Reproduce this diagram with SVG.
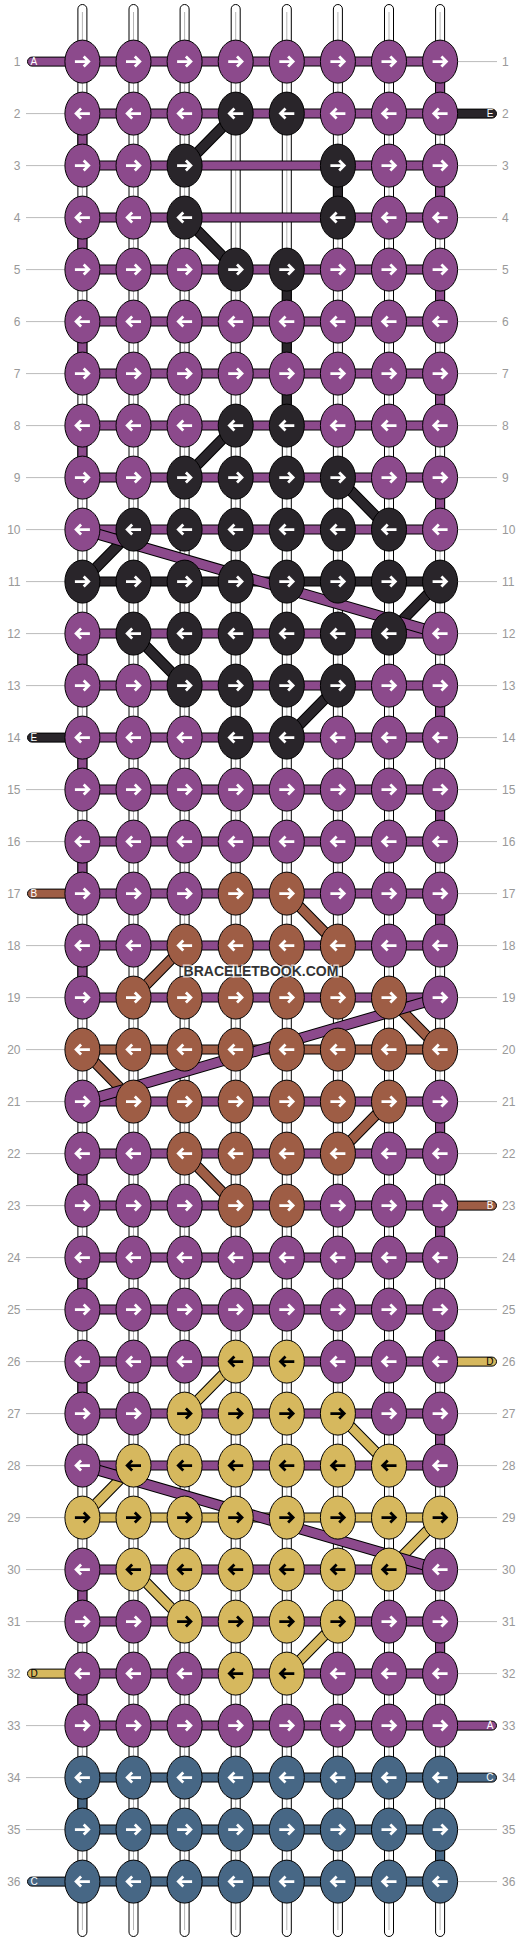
<svg xmlns="http://www.w3.org/2000/svg" width="532" height="1944" viewBox="0 0 532 1944">
<style>
.P{fill:#8c4a8c;color:#fff}
.K{fill:#29252a;color:#fff}
.B{fill:#9e5d45;color:#fff}
.Y{fill:#d6b85e;color:#000}
.C{fill:#476785;color:#fff}
.o{fill:none;stroke:#000;stroke-width:10}
.sP{fill:none;stroke:#8c4a8c;stroke-width:8}
.sK{fill:none;stroke:#29252a;stroke-width:8}
.sB{fill:none;stroke:#9e5d45;stroke-width:8}
.sY{fill:none;stroke:#d6b85e;stroke-width:8}
.sC{fill:none;stroke:#476785;stroke-width:8}
.do{fill:none;stroke:#000;stroke-width:11}
.dP{fill:none;stroke:#8c4a8c;stroke-width:9}
.dK{fill:none;stroke:#29252a;stroke-width:9}
.dB{fill:none;stroke:#9e5d45;stroke-width:9}
.dY{fill:none;stroke:#d6b85e;stroke-width:9}
.gl{fill:none;stroke:#bbb;stroke-width:1}
.lbl{font-family:"Liberation Sans",Arial,sans-serif;font-size:12px;fill:#999}
.lr{text-anchor:end}
.te{stroke:#000;stroke-width:1}
.tl{font-family:"Liberation Sans",Arial,sans-serif;font-size:10px}
.str rect{fill:#fff;stroke:#000;stroke-width:1}
.str line{stroke:#b5b5b5;stroke-width:1}
</style>
<defs>
<g id="NR"><ellipse rx="17.5" ry="21.5" stroke="#000" stroke-width="1"/><path d="M-7.5 0H6.2M1.3-5L6.3 0L1.3 5" fill="none" stroke="currentColor" stroke-width="2.8"/></g>
<g id="NL"><ellipse rx="17.5" ry="21.5" stroke="#000" stroke-width="1"/><path d="M7.5 0H-6.2M-1.3-5L-6.3 0L-1.3 5" fill="none" stroke="currentColor" stroke-width="2.8"/></g>
</defs>
<rect width="532" height="1944" fill="#fff"/>
<g id="strands" class="str">
<rect x="77.9" y="4.5" width="9" height="1932" rx="4.5"/><line x1="82.4" y1="12" x2="82.4" y2="1930"/>
<rect x="129" y="4.5" width="9" height="1932" rx="4.5"/><line x1="133.5" y1="12" x2="133.5" y2="1930"/>
<rect x="180.1" y="4.5" width="9" height="1932" rx="4.5"/><line x1="184.6" y1="12" x2="184.6" y2="1930"/>
<rect x="231.2" y="4.5" width="9" height="1932" rx="4.5"/><line x1="235.7" y1="12" x2="235.7" y2="1930"/>
<rect x="282.3" y="4.5" width="9" height="1932" rx="4.5"/><line x1="286.8" y1="12" x2="286.8" y2="1930"/>
<rect x="333.4" y="4.5" width="9" height="1932" rx="4.5"/><line x1="337.9" y1="12" x2="337.9" y2="1930"/>
<rect x="384.5" y="4.5" width="9" height="1932" rx="4.5"/><line x1="389" y1="12" x2="389" y2="1930"/>
<rect x="435.6" y="4.5" width="9" height="1932" rx="4.5"/><line x1="440.1" y1="12" x2="440.1" y2="1930"/>
</g>
<g id="rowlines">
<path class="gl" d="M26 113.6H65M26 165.6H65M26 217.6H65M26 269.6H65M26 321.6H65M26 373.6H65M26 425.6H65M26 477.6H65M26 529.6H65M26 581.6H65M26 633.6H65M26 685.6H65M26 789.6H65M26 841.6H65M26 945.6H65M26 997.6H65M26 1049.6H65M26 1101.6H65M26 1153.6H65M26 1205.6H65M26 1257.6H65M26 1309.6H65M26 1361.6H65M26 1413.6H65M26 1465.6H65M26 1517.6H65M26 1569.6H65M26 1621.6H65M26 1725.6H65M26 1777.6H65M26 1829.6H65"/>
<path class="gl" d="M458 61.6H497M458 165.6H497M458 217.6H497M458 269.6H497M458 321.6H497M458 373.6H497M458 425.6H497M458 477.6H497M458 529.6H497M458 581.6H497M458 633.6H497M458 685.6H497M458 737.6H497M458 789.6H497M458 841.6H497M458 893.6H497M458 945.6H497M458 997.6H497M458 1049.6H497M458 1101.6H497M458 1153.6H497M458 1257.6H497M458 1309.6H497M458 1413.6H497M458 1465.6H497M458 1517.6H497M458 1569.6H497M458 1621.6H497M458 1673.6H497M458 1829.6H497M458 1881.6H497"/>
</g>
<g id="labels" class="lbl">
<text class="lr" x="20.5" y="65.8">1</text><text x="502" y="65.8">1</text>
<text class="lr" x="20.5" y="117.8">2</text><text x="502" y="117.8">2</text>
<text class="lr" x="20.5" y="169.8">3</text><text x="502" y="169.8">3</text>
<text class="lr" x="20.5" y="221.8">4</text><text x="502" y="221.8">4</text>
<text class="lr" x="20.5" y="273.8">5</text><text x="502" y="273.8">5</text>
<text class="lr" x="20.5" y="325.8">6</text><text x="502" y="325.8">6</text>
<text class="lr" x="20.5" y="377.8">7</text><text x="502" y="377.8">7</text>
<text class="lr" x="20.5" y="429.8">8</text><text x="502" y="429.8">8</text>
<text class="lr" x="20.5" y="481.8">9</text><text x="502" y="481.8">9</text>
<text class="lr" x="20.5" y="533.8">10</text><text x="502" y="533.8">10</text>
<text class="lr" x="20.5" y="585.8">11</text><text x="502" y="585.8">11</text>
<text class="lr" x="20.5" y="637.8">12</text><text x="502" y="637.8">12</text>
<text class="lr" x="20.5" y="689.8">13</text><text x="502" y="689.8">13</text>
<text class="lr" x="20.5" y="741.8">14</text><text x="502" y="741.8">14</text>
<text class="lr" x="20.5" y="793.8">15</text><text x="502" y="793.8">15</text>
<text class="lr" x="20.5" y="845.8">16</text><text x="502" y="845.8">16</text>
<text class="lr" x="20.5" y="897.8">17</text><text x="502" y="897.8">17</text>
<text class="lr" x="20.5" y="949.8">18</text><text x="502" y="949.8">18</text>
<text class="lr" x="20.5" y="1001.8">19</text><text x="502" y="1001.8">19</text>
<text class="lr" x="20.5" y="1053.8">20</text><text x="502" y="1053.8">20</text>
<text class="lr" x="20.5" y="1105.8">21</text><text x="502" y="1105.8">21</text>
<text class="lr" x="20.5" y="1157.8">22</text><text x="502" y="1157.8">22</text>
<text class="lr" x="20.5" y="1209.8">23</text><text x="502" y="1209.8">23</text>
<text class="lr" x="20.5" y="1261.8">24</text><text x="502" y="1261.8">24</text>
<text class="lr" x="20.5" y="1313.8">25</text><text x="502" y="1313.8">25</text>
<text class="lr" x="20.5" y="1365.8">26</text><text x="502" y="1365.8">26</text>
<text class="lr" x="20.5" y="1417.8">27</text><text x="502" y="1417.8">27</text>
<text class="lr" x="20.5" y="1469.8">28</text><text x="502" y="1469.8">28</text>
<text class="lr" x="20.5" y="1521.8">29</text><text x="502" y="1521.8">29</text>
<text class="lr" x="20.5" y="1573.8">30</text><text x="502" y="1573.8">30</text>
<text class="lr" x="20.5" y="1625.8">31</text><text x="502" y="1625.8">31</text>
<text class="lr" x="20.5" y="1677.8">32</text><text x="502" y="1677.8">32</text>
<text class="lr" x="20.5" y="1729.8">33</text><text x="502" y="1729.8">33</text>
<text class="lr" x="20.5" y="1781.8">34</text><text x="502" y="1781.8">34</text>
<text class="lr" x="20.5" y="1833.8">35</text><text x="502" y="1833.8">35</text>
<text class="lr" x="20.5" y="1885.8">36</text><text x="502" y="1885.8">36</text>
</g>
<g id="connectors">
<path class="o" d="M82.4 61.6H440.1M82.4 113.6H440.1M82.4 165.6H440.1M82.4 217.6H440.1M82.4 269.6H440.1M82.4 321.6H440.1M82.4 373.6H440.1M82.4 425.6H440.1M82.4 477.6H440.1M82.4 529.6H440.1M82.4 581.6H440.1M82.4 633.6H440.1M82.4 685.6H440.1M82.4 737.6H440.1M82.4 789.6H440.1M82.4 841.6H440.1M82.4 893.6H440.1M82.4 945.6H440.1M82.4 997.6H440.1M82.4 1049.6H440.1M82.4 1101.6H440.1M82.4 1153.6H440.1M82.4 1205.6H440.1M82.4 1257.6H440.1M82.4 1309.6H440.1M82.4 1361.6H440.1M82.4 1413.6H440.1M82.4 1465.6H440.1M82.4 1517.6H440.1M82.4 1569.6H440.1M82.4 1621.6H440.1M82.4 1673.6H440.1M82.4 1725.6H440.1M82.4 1777.6H440.1M82.4 1829.6H440.1M82.4 1881.6H440.1
M440.1 61.6V113.6M440.1 165.6V217.6M440.1 269.6V321.6M440.1 373.6V425.6M440.1 477.6V529.6M440.1 685.6V737.6M440.1 789.6V841.6M440.1 893.6V945.6M440.1 1101.6V1153.6M440.1 1205.6V1257.6M440.1 1309.6V1361.6M440.1 1413.6V1465.6M440.1 1621.6V1673.6
M82.4 113.6V165.6M82.4 217.6V269.6M82.4 321.6V373.6M82.4 425.6V477.6M82.4 633.6V685.6M82.4 737.6V789.6M82.4 841.6V893.6M82.4 945.6V997.6M82.4 1153.6V1205.6M82.4 1257.6V1309.6M82.4 1361.6V1413.6M82.4 1569.6V1621.6M82.4 1673.6V1725.6
M337.9 165.6V217.6M286.8 269.6V425.6M82.4 1777.6V1829.6M440.1 1829.6V1881.6"/>
<path class="sP" d="M82.4 61.6H440.1M82.4 113.6H440.1M82.4 165.6H440.1M82.4 217.6H440.1M82.4 269.6H440.1M82.4 321.6H440.1M82.4 373.6H440.1M82.4 425.6H440.1M82.4 477.6H440.1M82.4 529.6H440.1M82.4 633.6H440.1M82.4 685.6H440.1M82.4 737.6H440.1M82.4 789.6H440.1M82.4 841.6H440.1M82.4 893.6H440.1M82.4 945.6H440.1M82.4 997.6H440.1M82.4 1101.6H440.1M82.4 1153.6H440.1M82.4 1205.6H440.1M82.4 1257.6H440.1M82.4 1309.6H440.1M82.4 1361.6H440.1M82.4 1413.6H440.1M82.4 1465.6H440.1M82.4 1569.6H440.1M82.4 1621.6H440.1M82.4 1673.6H440.1M82.4 1725.6H440.1
M440.1 61.6V113.6M440.1 165.6V217.6M440.1 269.6V321.6M440.1 373.6V425.6M440.1 477.6V529.6M440.1 685.6V737.6M440.1 789.6V841.6M440.1 893.6V945.6M440.1 1101.6V1153.6M440.1 1205.6V1257.6M440.1 1309.6V1361.6M440.1 1413.6V1465.6M440.1 1621.6V1673.6
M82.4 113.6V165.6M82.4 217.6V269.6M82.4 321.6V373.6M82.4 425.6V477.6M82.4 633.6V685.6M82.4 737.6V789.6M82.4 841.6V893.6M82.4 945.6V997.6M82.4 1153.6V1205.6M82.4 1257.6V1309.6M82.4 1361.6V1413.6M82.4 1569.6V1621.6M82.4 1673.6V1725.6"/>
<path class="sK" d="M82.4 581.6H440.1M337.9 165.6V217.6M286.8 269.6V425.6"/>
<path class="sB" d="M82.4 1049.6H440.1"/>
<path class="sY" d="M82.4 1517.6H440.1"/>
<path class="sC" d="M82.4 1777.6H440.1M82.4 1829.6H440.1M82.4 1881.6H440.1M82.4 1777.6V1829.6M440.1 1829.6V1881.6"/>
<path class="do" d="M235.7 113.6L184.6 165.6M184.6 217.6L235.7 269.6M235.7 425.6L184.6 477.6M337.9 477.6L389 529.6M133.5 529.6L82.4 581.6M440.1 581.6L389 633.6M133.5 633.6L184.6 685.6M337.9 685.6L286.8 737.6"/>
<path class="dK" d="M235.7 113.6L184.6 165.6M184.6 217.6L235.7 269.6M235.7 425.6L184.6 477.6M337.9 477.6L389 529.6M133.5 529.6L82.4 581.6M440.1 581.6L389 633.6M133.5 633.6L184.6 685.6M337.9 685.6L286.8 737.6"/>
<path class="do" d="M286.8 893.6L337.9 945.6M184.6 945.6L133.5 997.6M389 997.6L440.1 1049.6M82.4 1049.6L133.5 1101.6M389 1101.6L337.9 1153.6M184.6 1153.6L235.7 1205.6"/>
<path class="dB" d="M286.8 893.6L337.9 945.6M184.6 945.6L133.5 997.6M389 997.6L440.1 1049.6M82.4 1049.6L133.5 1101.6M389 1101.6L337.9 1153.6M184.6 1153.6L235.7 1205.6"/>
<path class="do" d="M235.7 1361.6L184.6 1413.6M337.9 1413.6L389 1465.6M133.5 1465.6L82.4 1517.6M440.1 1517.6L389 1569.6M133.5 1569.6L184.6 1621.6M337.9 1621.6L286.8 1673.6"/>
<path class="dY" d="M235.7 1361.6L184.6 1413.6M337.9 1413.6L389 1465.6M133.5 1465.6L82.4 1517.6M440.1 1517.6L389 1569.6M133.5 1569.6L184.6 1621.6M337.9 1621.6L286.8 1673.6"/>
<path class="do" d="M82.4 529.6L440.1 633.6M440.1 997.6L82.4 1101.6M82.4 1465.6L440.1 1569.6"/>
<path class="dP" d="M82.4 529.6L440.1 633.6M440.1 997.6L82.4 1101.6M82.4 1465.6L440.1 1569.6"/>
</g>
<g id="thread-ends">
<g id="endA1"><rect class="te P" x="27.5" y="57.1" width="60" height="9" rx="4.5"/><text class="tl" x="30.5" y="65.2" fill="#fff">A</text></g>
<g id="endE2"><rect class="te K" x="436" y="109.1" width="60.5" height="9" rx="4.5"/><text class="tl" x="493.5" y="117.2" fill="#fff" text-anchor="end">E</text></g>
<g id="endE14"><rect class="te K" x="27.5" y="733.1" width="60" height="9" rx="4.5"/><text class="tl" x="30.5" y="741.2" fill="#fff">E</text></g>
<g id="endB17"><rect class="te B" x="27.5" y="889.1" width="60" height="9" rx="4.5"/><text class="tl" x="30.5" y="897.2" fill="#fff">B</text></g>
<g id="endB23"><rect class="te B" x="436" y="1201.1" width="60.5" height="9" rx="4.5"/><text class="tl" x="493.5" y="1209.2" fill="#fff" text-anchor="end">B</text></g>
<g id="endD26"><rect class="te Y" x="436" y="1357.1" width="60.5" height="9" rx="4.5"/><text class="tl" x="493.5" y="1365.2" fill="#000" text-anchor="end">D</text></g>
<g id="endD32"><rect class="te Y" x="27.5" y="1669.1" width="60" height="9" rx="4.5"/><text class="tl" x="30.5" y="1677.2" fill="#000">D</text></g>
<g id="endA33"><rect class="te P" x="436" y="1721.1" width="60.5" height="9" rx="4.5"/><text class="tl" x="493.5" y="1729.2" fill="#fff" text-anchor="end">A</text></g>
<g id="endC34"><rect class="te C" x="436" y="1773.1" width="60.5" height="9" rx="4.5"/><text class="tl" x="493.5" y="1781.2" fill="#fff" text-anchor="end">C</text></g>
<g id="endC36"><rect class="te C" x="27.5" y="1877.1" width="60" height="9" rx="4.5"/><text class="tl" x="30.5" y="1885.2" fill="#fff">C</text></g>
</g>
<g id="nodes">
<g id="n1-1" class="P"><use href="#NR" x="82.4" y="61.6"/></g><g id="n1-2" class="P"><use href="#NR" x="133.5" y="61.6"/></g><g id="n1-3" class="P"><use href="#NR" x="184.6" y="61.6"/></g><g id="n1-4" class="P"><use href="#NR" x="235.7" y="61.6"/></g><g id="n1-5" class="P"><use href="#NR" x="286.8" y="61.6"/></g><g id="n1-6" class="P"><use href="#NR" x="337.9" y="61.6"/></g><g id="n1-7" class="P"><use href="#NR" x="389" y="61.6"/></g><g id="n1-8" class="P"><use href="#NR" x="440.1" y="61.6"/></g>
<g id="n2-1" class="P"><use href="#NL" x="82.4" y="113.6"/></g><g id="n2-2" class="P"><use href="#NL" x="133.5" y="113.6"/></g><g id="n2-3" class="P"><use href="#NL" x="184.6" y="113.6"/></g><g id="n2-4" class="K"><use href="#NL" x="235.7" y="113.6"/></g><g id="n2-5" class="K"><use href="#NL" x="286.8" y="113.6"/></g><g id="n2-6" class="P"><use href="#NL" x="337.9" y="113.6"/></g><g id="n2-7" class="P"><use href="#NL" x="389" y="113.6"/></g><g id="n2-8" class="P"><use href="#NL" x="440.1" y="113.6"/></g>
<g id="n3-1" class="P"><use href="#NR" x="82.4" y="165.6"/></g><g id="n3-2" class="P"><use href="#NR" x="133.5" y="165.6"/></g><g id="n3-3" class="K"><use href="#NR" x="184.6" y="165.6"/></g><g id="n3-6" class="K"><use href="#NR" x="337.9" y="165.6"/></g><g id="n3-7" class="P"><use href="#NR" x="389" y="165.6"/></g><g id="n3-8" class="P"><use href="#NR" x="440.1" y="165.6"/></g>
<g id="n4-1" class="P"><use href="#NL" x="82.4" y="217.6"/></g><g id="n4-2" class="P"><use href="#NL" x="133.5" y="217.6"/></g><g id="n4-3" class="K"><use href="#NL" x="184.6" y="217.6"/></g><g id="n4-6" class="K"><use href="#NL" x="337.9" y="217.6"/></g><g id="n4-7" class="P"><use href="#NL" x="389" y="217.6"/></g><g id="n4-8" class="P"><use href="#NL" x="440.1" y="217.6"/></g>
<g id="n5-1" class="P"><use href="#NR" x="82.4" y="269.6"/></g><g id="n5-2" class="P"><use href="#NR" x="133.5" y="269.6"/></g><g id="n5-3" class="P"><use href="#NR" x="184.6" y="269.6"/></g><g id="n5-4" class="K"><use href="#NR" x="235.7" y="269.6"/></g><g id="n5-5" class="K"><use href="#NR" x="286.8" y="269.6"/></g><g id="n5-6" class="P"><use href="#NR" x="337.9" y="269.6"/></g><g id="n5-7" class="P"><use href="#NR" x="389" y="269.6"/></g><g id="n5-8" class="P"><use href="#NR" x="440.1" y="269.6"/></g>
<g id="n6-1" class="P"><use href="#NL" x="82.4" y="321.6"/></g><g id="n6-2" class="P"><use href="#NL" x="133.5" y="321.6"/></g><g id="n6-3" class="P"><use href="#NL" x="184.6" y="321.6"/></g><g id="n6-4" class="P"><use href="#NL" x="235.7" y="321.6"/></g><g id="n6-5" class="P"><use href="#NL" x="286.8" y="321.6"/></g><g id="n6-6" class="P"><use href="#NL" x="337.9" y="321.6"/></g><g id="n6-7" class="P"><use href="#NL" x="389" y="321.6"/></g><g id="n6-8" class="P"><use href="#NL" x="440.1" y="321.6"/></g>
<g id="n7-1" class="P"><use href="#NR" x="82.4" y="373.6"/></g><g id="n7-2" class="P"><use href="#NR" x="133.5" y="373.6"/></g><g id="n7-3" class="P"><use href="#NR" x="184.6" y="373.6"/></g><g id="n7-4" class="P"><use href="#NR" x="235.7" y="373.6"/></g><g id="n7-5" class="P"><use href="#NR" x="286.8" y="373.6"/></g><g id="n7-6" class="P"><use href="#NR" x="337.9" y="373.6"/></g><g id="n7-7" class="P"><use href="#NR" x="389" y="373.6"/></g><g id="n7-8" class="P"><use href="#NR" x="440.1" y="373.6"/></g>
<g id="n8-1" class="P"><use href="#NL" x="82.4" y="425.6"/></g><g id="n8-2" class="P"><use href="#NL" x="133.5" y="425.6"/></g><g id="n8-3" class="P"><use href="#NL" x="184.6" y="425.6"/></g><g id="n8-4" class="K"><use href="#NL" x="235.7" y="425.6"/></g><g id="n8-5" class="K"><use href="#NL" x="286.8" y="425.6"/></g><g id="n8-6" class="P"><use href="#NL" x="337.9" y="425.6"/></g><g id="n8-7" class="P"><use href="#NL" x="389" y="425.6"/></g><g id="n8-8" class="P"><use href="#NL" x="440.1" y="425.6"/></g>
<g id="n9-1" class="P"><use href="#NR" x="82.4" y="477.6"/></g><g id="n9-2" class="P"><use href="#NR" x="133.5" y="477.6"/></g><g id="n9-3" class="K"><use href="#NR" x="184.6" y="477.6"/></g><g id="n9-4" class="K"><use href="#NR" x="235.7" y="477.6"/></g><g id="n9-5" class="K"><use href="#NR" x="286.8" y="477.6"/></g><g id="n9-6" class="K"><use href="#NR" x="337.9" y="477.6"/></g><g id="n9-7" class="P"><use href="#NR" x="389" y="477.6"/></g><g id="n9-8" class="P"><use href="#NR" x="440.1" y="477.6"/></g>
<g id="n10-1" class="P"><use href="#NL" x="82.4" y="529.6"/></g><g id="n10-2" class="K"><use href="#NL" x="133.5" y="529.6"/></g><g id="n10-3" class="K"><use href="#NL" x="184.6" y="529.6"/></g><g id="n10-4" class="K"><use href="#NL" x="235.7" y="529.6"/></g><g id="n10-5" class="K"><use href="#NL" x="286.8" y="529.6"/></g><g id="n10-6" class="K"><use href="#NL" x="337.9" y="529.6"/></g><g id="n10-7" class="K"><use href="#NL" x="389" y="529.6"/></g><g id="n10-8" class="P"><use href="#NL" x="440.1" y="529.6"/></g>
<g id="n11-1" class="K"><use href="#NR" x="82.4" y="581.6"/></g><g id="n11-2" class="K"><use href="#NR" x="133.5" y="581.6"/></g><g id="n11-3" class="K"><use href="#NR" x="184.6" y="581.6"/></g><g id="n11-4" class="K"><use href="#NR" x="235.7" y="581.6"/></g><g id="n11-5" class="K"><use href="#NR" x="286.8" y="581.6"/></g><g id="n11-6" class="K"><use href="#NR" x="337.9" y="581.6"/></g><g id="n11-7" class="K"><use href="#NR" x="389" y="581.6"/></g><g id="n11-8" class="K"><use href="#NR" x="440.1" y="581.6"/></g>
<g id="n12-1" class="P"><use href="#NL" x="82.4" y="633.6"/></g><g id="n12-2" class="K"><use href="#NL" x="133.5" y="633.6"/></g><g id="n12-3" class="K"><use href="#NL" x="184.6" y="633.6"/></g><g id="n12-4" class="K"><use href="#NL" x="235.7" y="633.6"/></g><g id="n12-5" class="K"><use href="#NL" x="286.8" y="633.6"/></g><g id="n12-6" class="K"><use href="#NL" x="337.9" y="633.6"/></g><g id="n12-7" class="K"><use href="#NL" x="389" y="633.6"/></g><g id="n12-8" class="P"><use href="#NL" x="440.1" y="633.6"/></g>
<g id="n13-1" class="P"><use href="#NR" x="82.4" y="685.6"/></g><g id="n13-2" class="P"><use href="#NR" x="133.5" y="685.6"/></g><g id="n13-3" class="K"><use href="#NR" x="184.6" y="685.6"/></g><g id="n13-4" class="K"><use href="#NR" x="235.7" y="685.6"/></g><g id="n13-5" class="K"><use href="#NR" x="286.8" y="685.6"/></g><g id="n13-6" class="K"><use href="#NR" x="337.9" y="685.6"/></g><g id="n13-7" class="P"><use href="#NR" x="389" y="685.6"/></g><g id="n13-8" class="P"><use href="#NR" x="440.1" y="685.6"/></g>
<g id="n14-1" class="P"><use href="#NL" x="82.4" y="737.6"/></g><g id="n14-2" class="P"><use href="#NL" x="133.5" y="737.6"/></g><g id="n14-3" class="P"><use href="#NL" x="184.6" y="737.6"/></g><g id="n14-4" class="K"><use href="#NL" x="235.7" y="737.6"/></g><g id="n14-5" class="K"><use href="#NL" x="286.8" y="737.6"/></g><g id="n14-6" class="P"><use href="#NL" x="337.9" y="737.6"/></g><g id="n14-7" class="P"><use href="#NL" x="389" y="737.6"/></g><g id="n14-8" class="P"><use href="#NL" x="440.1" y="737.6"/></g>
<g id="n15-1" class="P"><use href="#NR" x="82.4" y="789.6"/></g><g id="n15-2" class="P"><use href="#NR" x="133.5" y="789.6"/></g><g id="n15-3" class="P"><use href="#NR" x="184.6" y="789.6"/></g><g id="n15-4" class="P"><use href="#NR" x="235.7" y="789.6"/></g><g id="n15-5" class="P"><use href="#NR" x="286.8" y="789.6"/></g><g id="n15-6" class="P"><use href="#NR" x="337.9" y="789.6"/></g><g id="n15-7" class="P"><use href="#NR" x="389" y="789.6"/></g><g id="n15-8" class="P"><use href="#NR" x="440.1" y="789.6"/></g>
<g id="n16-1" class="P"><use href="#NL" x="82.4" y="841.6"/></g><g id="n16-2" class="P"><use href="#NL" x="133.5" y="841.6"/></g><g id="n16-3" class="P"><use href="#NL" x="184.6" y="841.6"/></g><g id="n16-4" class="P"><use href="#NL" x="235.7" y="841.6"/></g><g id="n16-5" class="P"><use href="#NL" x="286.8" y="841.6"/></g><g id="n16-6" class="P"><use href="#NL" x="337.9" y="841.6"/></g><g id="n16-7" class="P"><use href="#NL" x="389" y="841.6"/></g><g id="n16-8" class="P"><use href="#NL" x="440.1" y="841.6"/></g>
<g id="n17-1" class="P"><use href="#NR" x="82.4" y="893.6"/></g><g id="n17-2" class="P"><use href="#NR" x="133.5" y="893.6"/></g><g id="n17-3" class="P"><use href="#NR" x="184.6" y="893.6"/></g><g id="n17-4" class="B"><use href="#NR" x="235.7" y="893.6"/></g><g id="n17-5" class="B"><use href="#NR" x="286.8" y="893.6"/></g><g id="n17-6" class="P"><use href="#NR" x="337.9" y="893.6"/></g><g id="n17-7" class="P"><use href="#NR" x="389" y="893.6"/></g><g id="n17-8" class="P"><use href="#NR" x="440.1" y="893.6"/></g>
<g id="n18-1" class="P"><use href="#NL" x="82.4" y="945.6"/></g><g id="n18-2" class="P"><use href="#NL" x="133.5" y="945.6"/></g><g id="n18-3" class="B"><use href="#NL" x="184.6" y="945.6"/></g><g id="n18-4" class="B"><use href="#NL" x="235.7" y="945.6"/></g><g id="n18-5" class="B"><use href="#NL" x="286.8" y="945.6"/></g><g id="n18-6" class="B"><use href="#NL" x="337.9" y="945.6"/></g><g id="n18-7" class="P"><use href="#NL" x="389" y="945.6"/></g><g id="n18-8" class="P"><use href="#NL" x="440.1" y="945.6"/></g>
<g id="n19-1" class="P"><use href="#NR" x="82.4" y="997.6"/></g><g id="n19-2" class="B"><use href="#NR" x="133.5" y="997.6"/></g><g id="n19-3" class="B"><use href="#NR" x="184.6" y="997.6"/></g><g id="n19-4" class="B"><use href="#NR" x="235.7" y="997.6"/></g><g id="n19-5" class="B"><use href="#NR" x="286.8" y="997.6"/></g><g id="n19-6" class="B"><use href="#NR" x="337.9" y="997.6"/></g><g id="n19-7" class="B"><use href="#NR" x="389" y="997.6"/></g><g id="n19-8" class="P"><use href="#NR" x="440.1" y="997.6"/></g>
<g id="n20-1" class="B"><use href="#NL" x="82.4" y="1049.6"/></g><g id="n20-2" class="B"><use href="#NL" x="133.5" y="1049.6"/></g><g id="n20-3" class="B"><use href="#NL" x="184.6" y="1049.6"/></g><g id="n20-4" class="B"><use href="#NL" x="235.7" y="1049.6"/></g><g id="n20-5" class="B"><use href="#NL" x="286.8" y="1049.6"/></g><g id="n20-6" class="B"><use href="#NL" x="337.9" y="1049.6"/></g><g id="n20-7" class="B"><use href="#NL" x="389" y="1049.6"/></g><g id="n20-8" class="B"><use href="#NL" x="440.1" y="1049.6"/></g>
<g id="n21-1" class="P"><use href="#NR" x="82.4" y="1101.6"/></g><g id="n21-2" class="B"><use href="#NR" x="133.5" y="1101.6"/></g><g id="n21-3" class="B"><use href="#NR" x="184.6" y="1101.6"/></g><g id="n21-4" class="B"><use href="#NR" x="235.7" y="1101.6"/></g><g id="n21-5" class="B"><use href="#NR" x="286.8" y="1101.6"/></g><g id="n21-6" class="B"><use href="#NR" x="337.9" y="1101.6"/></g><g id="n21-7" class="B"><use href="#NR" x="389" y="1101.6"/></g><g id="n21-8" class="P"><use href="#NR" x="440.1" y="1101.6"/></g>
<g id="n22-1" class="P"><use href="#NL" x="82.4" y="1153.6"/></g><g id="n22-2" class="P"><use href="#NL" x="133.5" y="1153.6"/></g><g id="n22-3" class="B"><use href="#NL" x="184.6" y="1153.6"/></g><g id="n22-4" class="B"><use href="#NL" x="235.7" y="1153.6"/></g><g id="n22-5" class="B"><use href="#NL" x="286.8" y="1153.6"/></g><g id="n22-6" class="B"><use href="#NL" x="337.9" y="1153.6"/></g><g id="n22-7" class="P"><use href="#NL" x="389" y="1153.6"/></g><g id="n22-8" class="P"><use href="#NL" x="440.1" y="1153.6"/></g>
<g id="n23-1" class="P"><use href="#NR" x="82.4" y="1205.6"/></g><g id="n23-2" class="P"><use href="#NR" x="133.5" y="1205.6"/></g><g id="n23-3" class="P"><use href="#NR" x="184.6" y="1205.6"/></g><g id="n23-4" class="B"><use href="#NR" x="235.7" y="1205.6"/></g><g id="n23-5" class="B"><use href="#NR" x="286.8" y="1205.6"/></g><g id="n23-6" class="P"><use href="#NR" x="337.9" y="1205.6"/></g><g id="n23-7" class="P"><use href="#NR" x="389" y="1205.6"/></g><g id="n23-8" class="P"><use href="#NR" x="440.1" y="1205.6"/></g>
<g id="n24-1" class="P"><use href="#NL" x="82.4" y="1257.6"/></g><g id="n24-2" class="P"><use href="#NL" x="133.5" y="1257.6"/></g><g id="n24-3" class="P"><use href="#NL" x="184.6" y="1257.6"/></g><g id="n24-4" class="P"><use href="#NL" x="235.7" y="1257.6"/></g><g id="n24-5" class="P"><use href="#NL" x="286.8" y="1257.6"/></g><g id="n24-6" class="P"><use href="#NL" x="337.9" y="1257.6"/></g><g id="n24-7" class="P"><use href="#NL" x="389" y="1257.6"/></g><g id="n24-8" class="P"><use href="#NL" x="440.1" y="1257.6"/></g>
<g id="n25-1" class="P"><use href="#NR" x="82.4" y="1309.6"/></g><g id="n25-2" class="P"><use href="#NR" x="133.5" y="1309.6"/></g><g id="n25-3" class="P"><use href="#NR" x="184.6" y="1309.6"/></g><g id="n25-4" class="P"><use href="#NR" x="235.7" y="1309.6"/></g><g id="n25-5" class="P"><use href="#NR" x="286.8" y="1309.6"/></g><g id="n25-6" class="P"><use href="#NR" x="337.9" y="1309.6"/></g><g id="n25-7" class="P"><use href="#NR" x="389" y="1309.6"/></g><g id="n25-8" class="P"><use href="#NR" x="440.1" y="1309.6"/></g>
<g id="n26-1" class="P"><use href="#NL" x="82.4" y="1361.6"/></g><g id="n26-2" class="P"><use href="#NL" x="133.5" y="1361.6"/></g><g id="n26-3" class="P"><use href="#NL" x="184.6" y="1361.6"/></g><g id="n26-4" class="Y"><use href="#NL" x="235.7" y="1361.6"/></g><g id="n26-5" class="Y"><use href="#NL" x="286.8" y="1361.6"/></g><g id="n26-6" class="P"><use href="#NL" x="337.9" y="1361.6"/></g><g id="n26-7" class="P"><use href="#NL" x="389" y="1361.6"/></g><g id="n26-8" class="P"><use href="#NL" x="440.1" y="1361.6"/></g>
<g id="n27-1" class="P"><use href="#NR" x="82.4" y="1413.6"/></g><g id="n27-2" class="P"><use href="#NR" x="133.5" y="1413.6"/></g><g id="n27-3" class="Y"><use href="#NR" x="184.6" y="1413.6"/></g><g id="n27-4" class="Y"><use href="#NR" x="235.7" y="1413.6"/></g><g id="n27-5" class="Y"><use href="#NR" x="286.8" y="1413.6"/></g><g id="n27-6" class="Y"><use href="#NR" x="337.9" y="1413.6"/></g><g id="n27-7" class="P"><use href="#NR" x="389" y="1413.6"/></g><g id="n27-8" class="P"><use href="#NR" x="440.1" y="1413.6"/></g>
<g id="n28-1" class="P"><use href="#NL" x="82.4" y="1465.6"/></g><g id="n28-2" class="Y"><use href="#NL" x="133.5" y="1465.6"/></g><g id="n28-3" class="Y"><use href="#NL" x="184.6" y="1465.6"/></g><g id="n28-4" class="Y"><use href="#NL" x="235.7" y="1465.6"/></g><g id="n28-5" class="Y"><use href="#NL" x="286.8" y="1465.6"/></g><g id="n28-6" class="Y"><use href="#NL" x="337.9" y="1465.6"/></g><g id="n28-7" class="Y"><use href="#NL" x="389" y="1465.6"/></g><g id="n28-8" class="P"><use href="#NL" x="440.1" y="1465.6"/></g>
<g id="n29-1" class="Y"><use href="#NR" x="82.4" y="1517.6"/></g><g id="n29-2" class="Y"><use href="#NR" x="133.5" y="1517.6"/></g><g id="n29-3" class="Y"><use href="#NR" x="184.6" y="1517.6"/></g><g id="n29-4" class="Y"><use href="#NR" x="235.7" y="1517.6"/></g><g id="n29-5" class="Y"><use href="#NR" x="286.8" y="1517.6"/></g><g id="n29-6" class="Y"><use href="#NR" x="337.9" y="1517.6"/></g><g id="n29-7" class="Y"><use href="#NR" x="389" y="1517.6"/></g><g id="n29-8" class="Y"><use href="#NR" x="440.1" y="1517.6"/></g>
<g id="n30-1" class="P"><use href="#NL" x="82.4" y="1569.6"/></g><g id="n30-2" class="Y"><use href="#NL" x="133.5" y="1569.6"/></g><g id="n30-3" class="Y"><use href="#NL" x="184.6" y="1569.6"/></g><g id="n30-4" class="Y"><use href="#NL" x="235.7" y="1569.6"/></g><g id="n30-5" class="Y"><use href="#NL" x="286.8" y="1569.6"/></g><g id="n30-6" class="Y"><use href="#NL" x="337.9" y="1569.6"/></g><g id="n30-7" class="Y"><use href="#NL" x="389" y="1569.6"/></g><g id="n30-8" class="P"><use href="#NL" x="440.1" y="1569.6"/></g>
<g id="n31-1" class="P"><use href="#NR" x="82.4" y="1621.6"/></g><g id="n31-2" class="P"><use href="#NR" x="133.5" y="1621.6"/></g><g id="n31-3" class="Y"><use href="#NR" x="184.6" y="1621.6"/></g><g id="n31-4" class="Y"><use href="#NR" x="235.7" y="1621.6"/></g><g id="n31-5" class="Y"><use href="#NR" x="286.8" y="1621.6"/></g><g id="n31-6" class="Y"><use href="#NR" x="337.9" y="1621.6"/></g><g id="n31-7" class="P"><use href="#NR" x="389" y="1621.6"/></g><g id="n31-8" class="P"><use href="#NR" x="440.1" y="1621.6"/></g>
<g id="n32-1" class="P"><use href="#NL" x="82.4" y="1673.6"/></g><g id="n32-2" class="P"><use href="#NL" x="133.5" y="1673.6"/></g><g id="n32-3" class="P"><use href="#NL" x="184.6" y="1673.6"/></g><g id="n32-4" class="Y"><use href="#NL" x="235.7" y="1673.6"/></g><g id="n32-5" class="Y"><use href="#NL" x="286.8" y="1673.6"/></g><g id="n32-6" class="P"><use href="#NL" x="337.9" y="1673.6"/></g><g id="n32-7" class="P"><use href="#NL" x="389" y="1673.6"/></g><g id="n32-8" class="P"><use href="#NL" x="440.1" y="1673.6"/></g>
<g id="n33-1" class="P"><use href="#NR" x="82.4" y="1725.6"/></g><g id="n33-2" class="P"><use href="#NR" x="133.5" y="1725.6"/></g><g id="n33-3" class="P"><use href="#NR" x="184.6" y="1725.6"/></g><g id="n33-4" class="P"><use href="#NR" x="235.7" y="1725.6"/></g><g id="n33-5" class="P"><use href="#NR" x="286.8" y="1725.6"/></g><g id="n33-6" class="P"><use href="#NR" x="337.9" y="1725.6"/></g><g id="n33-7" class="P"><use href="#NR" x="389" y="1725.6"/></g><g id="n33-8" class="P"><use href="#NR" x="440.1" y="1725.6"/></g>
<g id="n34-1" class="C"><use href="#NL" x="82.4" y="1777.6"/></g><g id="n34-2" class="C"><use href="#NL" x="133.5" y="1777.6"/></g><g id="n34-3" class="C"><use href="#NL" x="184.6" y="1777.6"/></g><g id="n34-4" class="C"><use href="#NL" x="235.7" y="1777.6"/></g><g id="n34-5" class="C"><use href="#NL" x="286.8" y="1777.6"/></g><g id="n34-6" class="C"><use href="#NL" x="337.9" y="1777.6"/></g><g id="n34-7" class="C"><use href="#NL" x="389" y="1777.6"/></g><g id="n34-8" class="C"><use href="#NL" x="440.1" y="1777.6"/></g>
<g id="n35-1" class="C"><use href="#NR" x="82.4" y="1829.6"/></g><g id="n35-2" class="C"><use href="#NR" x="133.5" y="1829.6"/></g><g id="n35-3" class="C"><use href="#NR" x="184.6" y="1829.6"/></g><g id="n35-4" class="C"><use href="#NR" x="235.7" y="1829.6"/></g><g id="n35-5" class="C"><use href="#NR" x="286.8" y="1829.6"/></g><g id="n35-6" class="C"><use href="#NR" x="337.9" y="1829.6"/></g><g id="n35-7" class="C"><use href="#NR" x="389" y="1829.6"/></g><g id="n35-8" class="C"><use href="#NR" x="440.1" y="1829.6"/></g>
<g id="n36-1" class="C"><use href="#NL" x="82.4" y="1881.6"/></g><g id="n36-2" class="C"><use href="#NL" x="133.5" y="1881.6"/></g><g id="n36-3" class="C"><use href="#NL" x="184.6" y="1881.6"/></g><g id="n36-4" class="C"><use href="#NL" x="235.7" y="1881.6"/></g><g id="n36-5" class="C"><use href="#NL" x="286.8" y="1881.6"/></g><g id="n36-6" class="C"><use href="#NL" x="337.9" y="1881.6"/></g><g id="n36-7" class="C"><use href="#NL" x="389" y="1881.6"/></g><g id="n36-8" class="C"><use href="#NL" x="440.1" y="1881.6"/></g>
</g>
<g id="watermark">
<text x="261" y="976" text-anchor="middle" font-family="'Liberation Sans',Arial,sans-serif" font-weight="bold" font-size="14" fill="#333" stroke="#fff" stroke-opacity="0.7" stroke-width="3" paint-order="stroke">BRACELETBOOK.COM</text>
</g>
</svg>
